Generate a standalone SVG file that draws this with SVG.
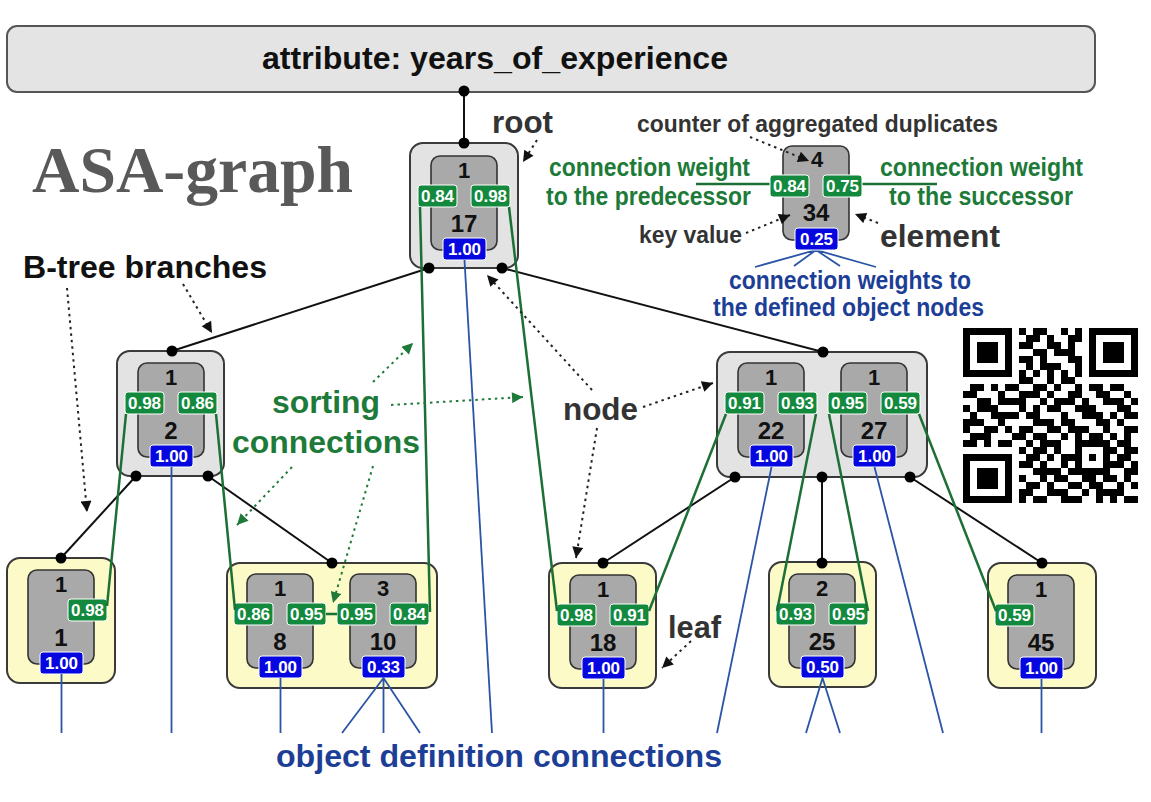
<svg xmlns="http://www.w3.org/2000/svg" width="1151" height="802" viewBox="0 0 1151 802">
  <defs>
    <style>
      text { font-family: "Liberation Sans", Arial, sans-serif; font-weight: bold; }
      .hdr { fill: #e4e4e4; stroke: #555; stroke-width: 2; }
      .inode { fill: #e3e3e3; stroke: #3a3a3a; stroke-width: 2; }
      .leaf { fill: #fcfac6; stroke: #3a3a3a; stroke-width: 2; }
      .el { fill: #a9a9a9; stroke: #333; stroke-width: 1.6; }
      .gb { fill: #12893d; stroke: #fff; stroke-width: 1; }
      .bb { fill: #0606e0; stroke: #fff; stroke-width: 1; }
      .bt { font-size: 17px; fill: #fff; text-anchor: middle; }
      .cnt { font-size: 22px; fill: #111; text-anchor: middle; }
      .key { font-size: 24px; fill: #111; text-anchor: middle; }
      .tree { stroke: #111; stroke-width: 2; fill: none; }
      .sort { stroke: #1c6f35; stroke-width: 2.5; fill: none; }
      .obj { stroke: #2a54a6; stroke-width: 1.8; fill: none; }
      .dot { fill: #000; }
      .note { stroke: #222; stroke-width: 2; stroke-dasharray: 2.5 4; fill: none; marker-end: url(#ah); }
      .gnote { stroke: #1f7a3a; stroke-width: 2; stroke-dasharray: 2.5 4; fill: none; marker-end: url(#ahg); }
      .lbl { font-size: 32px; fill: #333; }
      .small { font-size: 23px; fill: #333; }
      .mid { font-size: 25px; }
      .green { fill: #1d7a38; }
      .blue { fill: #1c3e96; }
    </style>
    <marker id="ah" viewBox="0 0 10 10" refX="10" refY="5" markerWidth="13" markerHeight="11" markerUnits="userSpaceOnUse" orient="auto">
      <path d="M0,0 L10,5 L0,10 z" fill="#111"/>
    </marker>
    <marker id="ahg" viewBox="0 0 10 10" refX="10" refY="5" markerWidth="13" markerHeight="11" markerUnits="userSpaceOnUse" orient="auto">
      <path d="M0,0 L10,5 L0,10 z" fill="#1f7a3a"/>
    </marker>
  </defs>

  <rect width="1151" height="802" fill="#fff"/>

  <!-- attribute header -->
  <g id="attribute">
    <rect class="hdr" x="7" y="26" width="1088" height="66" rx="10"/>
    <text x="262" y="69" font-size="32" fill="#111" textLength="466" lengthAdjust="spacingAndGlyphs">attribute: years_of_experience</text>
  </g>

  <!-- title -->
  <text id="title" x="32" y="192" font-size="66" fill="#595959" textLength="321" lengthAdjust="spacingAndGlyphs" style="font-family:'Liberation Serif',serif">ASA-graph</text>

  <!-- root node: key 17 -->
  <g id="node-root">
    <rect class="inode" x="410" y="143" width="108" height="125" rx="13"/>
    <rect class="el" x="431" y="156" width="66" height="94" rx="9"/>
    <text class="cnt" x="464" y="178">1</text>
    <rect class="gb" x="418" y="185" width="39" height="22" rx="3"/>
    <text class="bt" x="437.5" y="202">0.84</text>
    <rect class="gb" x="471" y="185" width="39" height="22" rx="3"/>
    <text class="bt" x="490.5" y="202">0.98</text>
    <text class="key" x="464" y="232">17</text>
    <rect class="bb" x="443" y="238" width="43" height="22" rx="3"/>
    <text class="bt" x="464.5" y="255">1.00</text>
  </g>

  <!-- inner node: key 2 -->
  <g id="node-2">
    <rect class="inode" x="117" y="351" width="107" height="125" rx="13"/>
    <rect class="el" x="138" y="363" width="66" height="94" rx="9"/>
    <text class="cnt" x="171" y="385">1</text>
    <rect class="gb" x="125" y="392" width="39" height="22" rx="3"/>
    <text class="bt" x="144.5" y="409">0.98</text>
    <rect class="gb" x="178" y="392" width="39" height="22" rx="3"/>
    <text class="bt" x="197.5" y="409">0.86</text>
    <text class="key" x="171" y="439">2</text>
    <rect class="bb" x="150" y="445" width="43" height="22" rx="3"/>
    <text class="bt" x="171.5" y="462">1.00</text>
  </g>

  <!-- inner node: keys 22, 27 -->
  <g id="node-22-27">
    <rect class="inode" x="717" y="352" width="210" height="125" rx="13"/>
    <rect class="el" x="738" y="363" width="66" height="94" rx="9"/>
    <text class="cnt" x="771" y="385">1</text>
    <rect class="gb" x="725" y="392" width="39" height="22" rx="3"/>
    <text class="bt" x="744.5" y="409">0.91</text>
    <rect class="gb" x="778" y="392" width="39" height="22" rx="3"/>
    <text class="bt" x="797.5" y="409">0.93</text>
    <text class="key" x="771" y="439">22</text>
    <rect class="bb" x="750" y="445" width="43" height="22" rx="3"/>
    <text class="bt" x="771.5" y="462">1.00</text>
    <rect class="el" x="841" y="363" width="66" height="94" rx="9"/>
    <text class="cnt" x="874" y="385">1</text>
    <rect class="gb" x="828" y="392" width="39" height="22" rx="3"/>
    <text class="bt" x="847.5" y="409">0.95</text>
    <rect class="gb" x="881" y="392" width="39" height="22" rx="3"/>
    <text class="bt" x="900.5" y="409">0.59</text>
    <text class="key" x="874" y="439">27</text>
    <rect class="bb" x="853" y="445" width="43" height="22" rx="3"/>
    <text class="bt" x="874.5" y="462">1.00</text>
  </g>

  <!-- leaf: key 1 -->
  <g id="leaf-1">
    <rect class="leaf" x="7" y="558" width="108" height="125" rx="13"/>
    <rect class="el" x="28" y="570" width="66" height="94" rx="9"/>
    <text class="cnt" x="61" y="592">1</text>
    <rect class="gb" x="68" y="599" width="39" height="22" rx="3"/>
    <text class="bt" x="87.5" y="616">0.98</text>
    <text class="key" x="61" y="646">1</text>
    <rect class="bb" x="40" y="652" width="43" height="22" rx="3"/>
    <text class="bt" x="61.5" y="669">1.00</text>
  </g>

  <!-- leaf: keys 8, 10 -->
  <g id="leaf-8-10">
    <rect class="leaf" x="227" y="563" width="210" height="125" rx="13"/>
    <rect class="el" x="247" y="574" width="66" height="94" rx="9"/>
    <text class="cnt" x="280" y="596">1</text>
    <rect class="gb" x="234" y="603" width="39" height="22" rx="3"/>
    <text class="bt" x="253.5" y="620">0.86</text>
    <rect class="gb" x="287" y="603" width="39" height="22" rx="3"/>
    <text class="bt" x="306.5" y="620">0.95</text>
    <text class="key" x="280" y="650">8</text>
    <rect class="bb" x="259" y="656" width="43" height="22" rx="3"/>
    <text class="bt" x="280.5" y="673">1.00</text>
    <rect class="el" x="350" y="574" width="66" height="94" rx="9"/>
    <text class="cnt" x="383" y="596">3</text>
    <rect class="gb" x="337" y="603" width="39" height="22" rx="3"/>
    <text class="bt" x="356.5" y="620">0.95</text>
    <rect class="gb" x="390" y="603" width="39" height="22" rx="3"/>
    <text class="bt" x="409.5" y="620">0.84</text>
    <text class="key" x="383" y="650">10</text>
    <rect class="bb" x="362" y="656" width="43" height="22" rx="3"/>
    <text class="bt" x="383.5" y="673">0.33</text>
  </g>

  <!-- leaf: key 18 -->
  <g id="leaf-18">
    <rect class="leaf" x="549" y="563" width="107" height="125" rx="13"/>
    <rect class="el" x="570" y="575" width="66" height="94" rx="9"/>
    <text class="cnt" x="603" y="597">1</text>
    <rect class="gb" x="557" y="604" width="39" height="22" rx="3"/>
    <text class="bt" x="576.5" y="621">0.98</text>
    <rect class="gb" x="610" y="604" width="39" height="22" rx="3"/>
    <text class="bt" x="629.5" y="621">0.91</text>
    <text class="key" x="603" y="651">18</text>
    <rect class="bb" x="582" y="657" width="43" height="22" rx="3"/>
    <text class="bt" x="603.5" y="674">1.00</text>
  </g>

  <!-- leaf: key 25 -->
  <g id="leaf-25">
    <rect class="leaf" x="769" y="562" width="107" height="125" rx="13"/>
    <rect class="el" x="789" y="574" width="66" height="94" rx="9"/>
    <text class="cnt" x="822" y="596">2</text>
    <rect class="gb" x="776" y="603" width="39" height="22" rx="3"/>
    <text class="bt" x="795.5" y="620">0.93</text>
    <rect class="gb" x="829" y="603" width="39" height="22" rx="3"/>
    <text class="bt" x="848.5" y="620">0.95</text>
    <text class="key" x="822" y="650">25</text>
    <rect class="bb" x="801" y="656" width="43" height="22" rx="3"/>
    <text class="bt" x="822.5" y="673">0.50</text>
  </g>

  <!-- leaf: key 45 -->
  <g id="leaf-45">
    <rect class="leaf" x="988" y="563" width="108" height="125" rx="13"/>
    <rect class="el" x="1008" y="575" width="66" height="94" rx="9"/>
    <text class="cnt" x="1041" y="597">1</text>
    <rect class="gb" x="995" y="604" width="39" height="22" rx="3"/>
    <text class="bt" x="1014.5" y="621">0.59</text>
    <text class="key" x="1041" y="651">45</text>
    <rect class="bb" x="1020" y="657" width="43" height="22" rx="3"/>
    <text class="bt" x="1041.5" y="674">1.00</text>
  </g>

  <!-- connectors -->
  <g id="connectors">
    <!-- B-tree branches -->
    <path class="tree" d="M464,91 V143"/>
    <path class="tree" d="M429,268 L172,351"/>
    <path class="tree" d="M502,268 L823,352"/>
    <path class="tree" d="M136,476 L61,558"/>
    <path class="tree" d="M208,476 L332,563"/>
    <path class="tree" d="M735,477 L603,563"/>
    <path class="tree" d="M822,477 V563"/>
    <path class="tree" d="M910,477 L1042,563"/>
    <!-- sorting connections -->
    <path class="sort" d="M126,414 L107,606"/>
    <path class="sort" d="M216,414 L235,610"/>
    <path class="sort" d="M420,207 L430,612"/>
    <path class="sort" d="M509,207 L557,611"/>
    <path class="sort" d="M726,414 L649,611"/>
    <path class="sort" d="M816,414 L777,611"/>
    <path class="sort" d="M829,414 L868,611"/>
    <path class="sort" d="M919,414 L996,611"/>
    <path class="sort" d="M326,614 H337"/>
    <!-- object definition connections -->
    <path class="obj" d="M61.5,674 V733"/>
    <path class="obj" d="M171.5,467 V733"/>
    <path class="obj" d="M280.5,678 V733"/>
    <path class="obj" d="M342,733 L383.5,678 L420,733 M383.5,678 V733"/>
    <path class="obj" d="M464.5,260 L492,733"/>
    <path class="obj" d="M603.5,679 V733"/>
    <path class="obj" d="M771.5,467 L717,733"/>
    <path class="obj" d="M806,733 L822.5,678 L840,733"/>
    <path class="obj" d="M874.5,467 L943,733"/>
    <path class="obj" d="M1041.5,679 V733"/>
    <!-- endpoints -->
    <circle class="dot" cx="464" cy="91" r="5.5"/>
    <circle class="dot" cx="464" cy="143" r="5.5"/>
    <circle class="dot" cx="429" cy="268" r="5.5"/>
    <circle class="dot" cx="502" cy="268" r="5.5"/>
    <circle class="dot" cx="172" cy="351" r="5.5"/>
    <circle class="dot" cx="136" cy="476" r="5.5"/>
    <circle class="dot" cx="208" cy="476" r="5.5"/>
    <circle class="dot" cx="823" cy="352" r="5.5"/>
    <circle class="dot" cx="735" cy="477" r="5.5"/>
    <circle class="dot" cx="822" cy="477" r="5.5"/>
    <circle class="dot" cx="910" cy="477" r="5.5"/>
    <circle class="dot" cx="61" cy="558" r="5.5"/>
    <circle class="dot" cx="332" cy="563" r="5.5"/>
    <circle class="dot" cx="603" cy="563" r="5.5"/>
    <circle class="dot" cx="822" cy="563" r="5.5"/>
    <circle class="dot" cx="1042" cy="563" r="5.5"/>
  </g>

  <!-- element legend -->
  <g id="legend">
    <path class="sort" d="M696,184 H771 M861,184 H937"/>
    <path class="obj" d="M755,267 L816,250 L876,267 M794,266 L816,250 L840,266"/>
    <rect class="el" x="783" y="146" width="66" height="94" rx="9"/>
    <text class="cnt" x="817" y="167">4</text>
    <rect class="gb" x="770" y="175" width="39" height="22" rx="3"/>
    <text class="bt" x="789.5" y="192">0.84</text>
    <rect class="gb" x="823" y="175" width="39" height="22" rx="3"/>
    <text class="bt" x="842.5" y="192">0.75</text>
    <text class="key" x="816" y="221">34</text>
    <rect class="bb" x="795" y="228" width="43" height="22" rx="3"/>
    <text class="bt" x="816.5" y="245">0.25</text>
    <text class="small" x="637" y="132" textLength="361" lengthAdjust="spacingAndGlyphs">counter of aggregated duplicates</text>
    <text class="small mid green" x="549" y="176" textLength="201" lengthAdjust="spacingAndGlyphs">connection weight</text>
    <text class="small mid green" x="546" y="205" textLength="205" lengthAdjust="spacingAndGlyphs">to the predecessor</text>
    <text class="small mid green" x="880" y="176" textLength="203" lengthAdjust="spacingAndGlyphs">connection weight</text>
    <text class="small mid green" x="889" y="205" textLength="184" lengthAdjust="spacingAndGlyphs">to the successor</text>
    <text class="small" x="639" y="243" textLength="103" lengthAdjust="spacingAndGlyphs">key value</text>
    <text class="lbl" x="880" y="247" textLength="120" lengthAdjust="spacingAndGlyphs">element</text>
    <text class="small mid blue" x="729" y="289" textLength="242" lengthAdjust="spacingAndGlyphs">connection weights to</text>
    <text class="small mid blue" x="713" y="316" textLength="271" lengthAdjust="spacingAndGlyphs">the defined object nodes</text>
    <path class="note" d="M750,137 L809,161"/>
    <path class="note" d="M746,233 L790,215"/>
    <path class="note" d="M878,223 L855,214"/>
  </g>

  <!-- labels and annotation arrows -->
  <g id="annotations">
    <text class="lbl" x="492" y="133" textLength="61" lengthAdjust="spacingAndGlyphs">root</text>
    <path class="note" d="M537,140 L523,162"/>
    <text class="lbl" x="23" y="278" style="fill:#111" textLength="244" lengthAdjust="spacingAndGlyphs">B-tree branches</text>
    <path class="note" d="M67,288 L87,512"/>
    <path class="note" d="M183,284 L212,333"/>
    <text class="lbl green" x="272" y="413" textLength="108" lengthAdjust="spacingAndGlyphs">sorting</text>
    <text class="lbl green" x="232" y="453" textLength="188" lengthAdjust="spacingAndGlyphs">connections</text>
    <path class="gnote" d="M373,382 L413,343"/>
    <path class="gnote" d="M391,405 L523,397"/>
    <path class="gnote" d="M292,467 L237,525"/>
    <path class="gnote" d="M373,466 L333,603"/>
    <text class="lbl" x="563" y="420" textLength="75" lengthAdjust="spacingAndGlyphs">node</text>
    <path class="note" d="M592,390 L487,275"/>
    <path class="note" d="M643,407 L713,383"/>
    <path class="note" d="M597,428 L576,558"/>
    <text class="lbl" x="668" y="638" textLength="53" lengthAdjust="spacingAndGlyphs">leaf</text>
    <path class="note" d="M691,641 L662,668"/>
    <text class="lbl blue" x="276" y="767" textLength="446" lengthAdjust="spacingAndGlyphs">object definition connections</text>
  </g>

  <!-- QR code, 25 x 25 modules -->
  <g id="qr" transform="translate(963,328) scale(7)" fill="#000" shape-rendering="crispEdges">
    <path d="M0 0h7v1h-7z M8 0h1v1h-1z M10 0h2v1h-2z M14 0h1v1h-1z M16 0h1v1h-1z M18 0h7v1h-7z
      M0 1h1v1h-1z M6 1h1v1h-1z M9 1h2v1h-2z M12 1h1v1h-1z M15 1h2v1h-2z M18 1h1v1h-1z M24 1h1v1h-1z
      M0 2h1v1h-1z M2 2h3v1h-3z M6 2h1v1h-1z M8 2h2v1h-2z M12 2h2v1h-2z M15 2h1v1h-1z M18 2h1v1h-1z M20 2h3v1h-3z M24 2h1v1h-1z
      M0 3h1v1h-1z M2 3h3v1h-3z M6 3h1v1h-1z M10 3h2v1h-2z M13 3h3v1h-3z M18 3h1v1h-1z M20 3h3v1h-3z M24 3h1v1h-1z
      M0 4h1v1h-1z M2 4h3v1h-3z M6 4h1v1h-1z M8 4h2v1h-2z M11 4h1v1h-1z M15 4h2v1h-2z M18 4h1v1h-1z M20 4h3v1h-3z M24 4h1v1h-1z
      M0 5h1v1h-1z M6 5h1v1h-1z M9 5h1v1h-1z M11 5h3v1h-3z M16 5h1v1h-1z M18 5h1v1h-1z M24 5h1v1h-1z
      M0 6h7v1h-7z M8 6h1v1h-1z M10 6h1v1h-1z M12 6h1v1h-1z M14 6h1v1h-1z M16 6h1v1h-1z M18 6h7v1h-7z
      M8 7h2v1h-2z M12 7h1v1h-1z M14 7h2v1h-2z
      M1 8h2v1h-2z M4 8h1v1h-1z M6 8h2v1h-2z M10 8h2v1h-2z M13 8h1v1h-1z M16 8h1v1h-1z M18 8h2v1h-2z M21 8h2v1h-2z
      M0 9h2v1h-2z M5 9h1v1h-1z M8 9h3v1h-3z M12 9h1v1h-1z M15 9h2v1h-2z M19 9h2v1h-2z M23 9h1v1h-1z
      M2 10h2v1h-2z M5 10h4v1h-4z M11 10h1v1h-1z M13 10h3v1h-3z M17 10h1v1h-1z M20 10h3v1h-3z M24 10h1v1h-1z
      M0 11h1v1h-1z M2 11h3v1h-3z M8 11h1v1h-1z M10 11h1v1h-1z M12 11h2v1h-2z M16 11h3v1h-3z M22 11h2v1h-2z
      M1 12h1v1h-1z M4 12h4v1h-4z M9 12h2v1h-2z M14 12h1v1h-1z M17 12h3v1h-3z M21 12h1v1h-1z M23 12h2v1h-2z
      M0 13h3v1h-3z M5 13h1v1h-1z M10 13h3v1h-3z M14 13h2v1h-2z M19 13h2v1h-2z M22 13h1v1h-1z
      M0 14h1v1h-1z M3 14h2v1h-2z M6 14h1v1h-1z M8 14h2v1h-2z M12 14h2v1h-2z M15 14h3v1h-3z M20 14h1v1h-1z M23 14h2v1h-2z
      M1 15h3v1h-3z M7 15h2v1h-2z M10 15h2v1h-2z M14 15h1v1h-1z M16 15h1v1h-1z M18 15h2v1h-2z M21 15h1v1h-1z M23 15h1v1h-1z
      M0 16h2v1h-2z M3 16h1v1h-1z M5 16h2v1h-2z M9 16h1v1h-1z M11 16h3v1h-3z M16 16h5v1h-5z M22 16h2v1h-2z
      M8 17h1v1h-1z M10 17h2v1h-2z M13 17h1v1h-1z M16 17h1v1h-1z M20 17h2v1h-2z M23 17h2v1h-2z
      M0 18h7v1h-7z M9 18h2v1h-2z M12 18h1v1h-1z M14 18h3v1h-3z M18 18h1v1h-1z M20 18h1v1h-1z M22 18h2v1h-2z
      M0 19h1v1h-1z M6 19h1v1h-1z M8 19h2v1h-2z M11 19h1v1h-1z M14 19h1v1h-1z M16 19h1v1h-1z M20 19h3v1h-3z M24 19h1v1h-1z
      M0 20h1v1h-1z M2 20h3v1h-3z M6 20h1v1h-1z M10 20h4v1h-4z M15 20h6v1h-6z M23 20h2v1h-2z
      M0 21h1v1h-1z M2 21h3v1h-3z M6 21h1v1h-1z M8 21h1v1h-1z M11 21h1v1h-1z M13 21h2v1h-2z M17 21h2v1h-2z M20 21h2v1h-2z M23 21h1v1h-1z
      M0 22h1v1h-1z M2 22h3v1h-3z M6 22h1v1h-1z M9 22h2v1h-2z M12 22h1v1h-1z M15 22h2v1h-2z M18 22h2v1h-2z M22 22h1v1h-1z M24 22h1v1h-1z
      M0 23h1v1h-1z M6 23h1v1h-1z M8 23h2v1h-2z M12 23h3v1h-3z M17 23h1v1h-1z M19 23h4v1h-4z
      M0 24h7v1h-7z M8 24h1v1h-1z M10 24h2v1h-2z M14 24h3v1h-3z M19 24h1v1h-1z M21 24h1v1h-1z M23 24h2v1h-2z"/>
  </g>
</svg>
